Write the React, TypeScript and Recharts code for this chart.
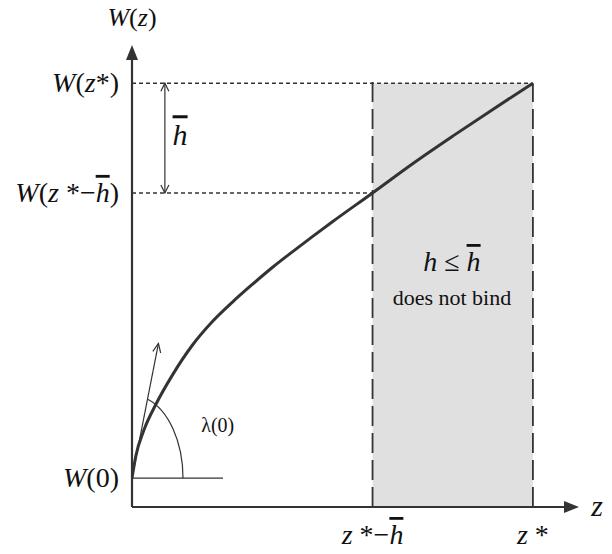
import {
  ComposedChart,
  Line,
  ReferenceArea,
  ReferenceDot,
  ReferenceLine,
  XAxis,
  YAxis,
} from "recharts"

// W(z) sampled along z (z* normalised to 1)
const zValues = [0, 0.01, 0.03, 0.06, 0.1, 0.15, 0.2, 0.25, 0.3, 0.35, 0.4, 0.45, 0.5, 0.6, 0.7, 0.8, 0.9, 1]
const wValues = [0.068, 0.122, 0.182, 0.243, 0.31, 0.381, 0.437, 0.483, 0.525, 0.565, 0.602, 0.638, 0.673, 0.741, 0.81, 0.875, 0.938, 1]

// key points on the axes
const Z_CUT = 0.6 // z* − h̄
const Z_STAR = 1
const W_ZERO = 0.068
const W_CUT = 0.741
const W_STAR = 1

const xTicks = [Z_CUT, Z_STAR]
const yTicks = [W_ZERO, W_CUT, W_STAR]

// tangent at the origin and the h̄ bracket
const tangentEnd = { z: 0.066, w: 0.386 }
const bracketZ = 0.082
const baseLineEnd = 0.227

const X_MAX = 1.115
const Y_MAX = 1.09

const data = zValues.map((z, i) => ({ z, w: wValues[i] }))

const INK = "#333"
const TEXT_STYLE = { fontFamily: "Liberation Serif" }

const HBar = () => (
  <tspan fontStyle="italic" textDecoration="overline">
    h
  </tspan>
)

// line with an arrow head at the second point (and optionally the first)
const arrowShape =
  (opts: { filled?: boolean; both?: boolean; width?: number; len?: number; half?: number }) =>
  (p: any) => {
    const { x1, y1, x2, y2 } = p
    const len = opts.len ?? 9
    const half = opts.half ?? 4
    const w = opts.width ?? 1.2
    const dx = x2 - x1
    const dy = y2 - y1
    const d = Math.hypot(dx, dy) || 1
    const ux = dx / d
    const uy = dy / d
    const head = (tx: number, ty: number, sx: number, sy: number) => {
      const bx = tx - sx * len
      const by = ty - sy * len
      const pts = `${bx - sy * half},${by + sx * half} ${tx},${ty} ${bx + sy * half},${by - sx * half}`
      return opts.filled ? (
        <polygon points={pts} fill={INK} />
      ) : (
        <polyline points={pts} fill="none" stroke={INK} strokeWidth={w} />
      )
    }
    const trim = opts.filled ? len * 0.8 : 0
    return (
      <g>
        <line
          x1={x1}
          y1={y1}
          x2={x2 - ux * trim}
          y2={y2 - uy * trim}
          stroke={INK}
          strokeWidth={w}
        />
        {head(x2, y2, ux, uy)}
        {opts.both ? head(x1, y1, -ux, -uy) : null}
      </g>
    )
  }

const YTick = (props: any) => {
  const { x, y, payload } = props
  const v = payload.value
  let body = null
  if (v === W_STAR)
    body = (
      <>
        <tspan fontStyle="italic">W</tspan>(<tspan fontStyle="italic">z</tspan>*)
      </>
    )
  else if (v === W_CUT)
    body = (
      <>
        <tspan fontStyle="italic">W</tspan>(<tspan fontStyle="italic">z</tspan> *−<HBar />)
      </>
    )
  else
    body = (
      <>
        <tspan fontStyle="italic">W</tspan>(0)
      </>
    )
  return (
    <text x={x} y={y + 9} textAnchor="end" style={TEXT_STYLE} fontSize={28} fill="#111">
      {body}
    </text>
  )
}

const XTick = (props: any) => {
  const { x, y, payload } = props
  const v = payload.value
  return (
    <text x={x} y={y} textAnchor="middle" style={TEXT_STYLE} fontSize={28} fill="#111">
      {v === Z_CUT ? (
        <>
          <tspan fontStyle="italic">z</tspan> *−<HBar />
        </>
      ) : (
        <>
          <tspan fontStyle="italic">z</tspan> *
        </>
      )}
    </text>
  )
}

// text placed at a data point, shifted in pixels
const textShape =
  (content: any, opts: { dx?: number; dy?: number; size?: number; anchor?: string } = {}) =>
  (p: any) => (
    <text
      x={p.cx + (opts.dx ?? 0)}
      y={p.cy + (opts.dy ?? 0)}
      textAnchor={opts.anchor ?? "middle"}
      style={TEXT_STYLE}
      fontSize={opts.size ?? 24}
      fill="#111"
    >
      {content}
    </text>
  )

// elliptical angle mark between the base line and the tangent
const angleArc = (p: any) => {
  const rx = 51
  const ry = 83
  const t = (72.6 * Math.PI) / 180
  const ex = p.cx + rx * Math.cos(t)
  const ey = p.cy - ry * Math.sin(t)
  return (
    <path
      d={`M ${p.cx + rx} ${p.cy} A ${rx} ${ry} 0 0 0 ${ex} ${ey}`}
      fill="none"
      stroke={INK}
      strokeWidth={1.2}
    />
  )
}

export default function App() {
  return (
    <div style={{ position: "absolute", left: 0, top: 0, background: "#fff" }}>
      <ComposedChart
        width={612}
        height={554}
        data={data}
        margin={{ top: 45, right: 33, left: 12, bottom: 7 }}
      >
        <XAxis
          dataKey="z"
          type="number"
          domain={[0, X_MAX]}
          allowDataOverflow
          ticks={xTicks}
          interval={0}
          axisLine={false}
          tickLine={false}
          tickSize={0}
          tickMargin={37}
          height={40}
          tick={<XTick />}
        />
        <YAxis
          type="number"
          domain={[0, Y_MAX]}
          allowDataOverflow
          ticks={yTicks}
          interval={0}
          axisLine={false}
          tickLine={false}
          tickSize={0}
          tickMargin={13}
          width={120}
          tick={<YTick />}
        />
        <ReferenceArea
          x1={Z_CUT}
          x2={Z_STAR}
          y1={0}
          y2={W_STAR}
          fill="#e0e0e0"
          fillOpacity={1}
          stroke="none"
          ifOverflow="visible"
        />
        <ReferenceLine
          segment={[{ x: 0, y: W_STAR }, { x: Z_STAR, y: W_STAR }]}
          stroke={INK}
          strokeWidth={1.5}
          strokeDasharray="4 3"
          ifOverflow="visible"
        />
        <ReferenceLine
          segment={[{ x: 0, y: W_CUT }, { x: Z_CUT, y: W_CUT }]}
          stroke={INK}
          strokeWidth={1.5}
          strokeDasharray="4 3"
          ifOverflow="visible"
        />
        <ReferenceLine
          segment={[{ x: Z_CUT, y: 0 }, { x: Z_CUT, y: 1.016 }]}
          stroke={INK}
          strokeWidth={1.8}
          strokeDasharray="20 7"
          ifOverflow="visible"
        />
        <ReferenceLine
          segment={[{ x: Z_STAR, y: 0 }, { x: Z_STAR, y: W_STAR }]}
          stroke={INK}
          strokeWidth={1.8}
          strokeDasharray="20 7"
          ifOverflow="visible"
        />
        <ReferenceLine
          segment={[{ x: 0, y: W_ZERO }, { x: baseLineEnd, y: W_ZERO }]}
          stroke={INK}
          strokeWidth={1.3}
          ifOverflow="visible"
        />
        <ReferenceLine
          segment={[{ x: 0, y: W_ZERO }, { x: tangentEnd.z, y: tangentEnd.w }]}
          ifOverflow="visible"
          shape={arrowShape({ width: 1.2, len: 9, half: 4 })}
        />
        <ReferenceLine
          segment={[{ x: bracketZ, y: W_CUT }, { x: bracketZ, y: W_STAR }]}
          ifOverflow="visible"
          shape={arrowShape({ both: true, width: 1.2, len: 8, half: 4 })}
        />
        {/* axes with filled arrow heads */}
        <ReferenceLine
          segment={[{ x: 0, y: 0 }, { x: 0, y: Y_MAX }]}
          ifOverflow="visible"
          shape={arrowShape({ filled: true, width: 2.2, len: 15, half: 6 })}
        />
        <ReferenceLine
          segment={[{ x: 0, y: 0 }, { x: X_MAX, y: 0 }]}
          ifOverflow="visible"
          shape={arrowShape({ filled: true, width: 2.2, len: 15, half: 6 })}
        />
        <ReferenceDot x={0} y={W_ZERO} r={0} ifOverflow="visible" shape={angleArc} />
        <Line
          dataKey="w"
          type="monotone"
          stroke={INK}
          strokeWidth={3}
          dot={false}
          activeDot={false}
          isAnimationActive={false}
        />
        <ReferenceDot
          x={0}
          y={Y_MAX}
          r={0}
          ifOverflow="visible"
          shape={textShape(
            <>
              <tspan fontStyle="italic">W</tspan>(<tspan fontStyle="italic">z</tspan>)
            </>,
            { dy: -19, size: 26 }
          )}
        />
        <ReferenceDot
          x={X_MAX}
          y={0}
          r={0}
          ifOverflow="visible"
          shape={textShape(<tspan fontStyle="italic">z</tspan>, { dx: 18, dy: 9, size: 30 })}
        />
        <ReferenceDot
          x={0.12}
          y={0.877}
          r={0}
          ifOverflow="visible"
          shape={textShape(<HBar />, { dy: 10, size: 30 })}
        />
        <ReferenceDot
          x={0.214}
          y={0.193}
          r={0}
          ifOverflow="visible"
          shape={textShape("λ(0)", { dy: 7, size: 20 })}
        />
        <ReferenceDot
          x={0.798}
          y={0.578}
          r={0}
          ifOverflow="visible"
          shape={textShape(
            <>
              <tspan fontStyle="italic">h</tspan> ≤ <HBar />
            </>,
            { dy: 9, size: 28 }
          )}
        />
        <ReferenceDot
          x={0.798}
          y={0.493}
          r={0}
          ifOverflow="visible"
          shape={textShape("does not bind", { dy: 7, size: 22 })}
        />
      </ComposedChart>
    </div>
  )
}
